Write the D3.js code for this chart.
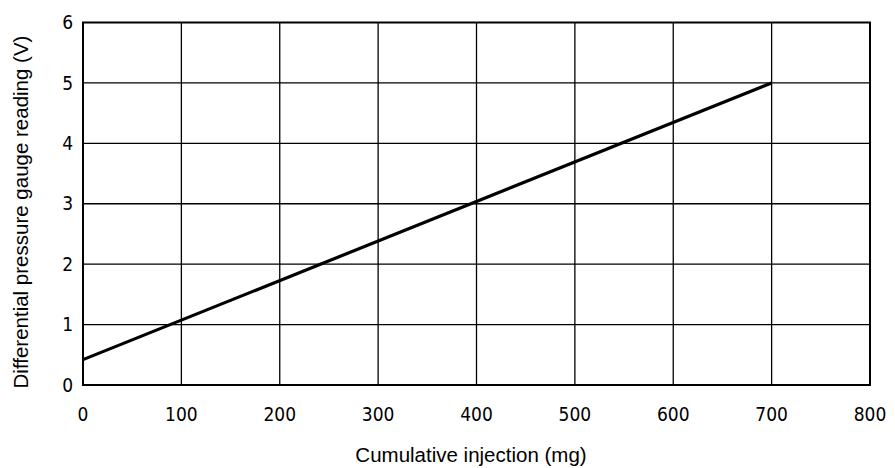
<!DOCTYPE html>
<html>
<head>
<meta charset="utf-8">
<script src="https://cdn.jsdelivr.net/npm/d3@7"></script>
<style>
  body { margin: 0; background: #fff; }
  svg { display: block; }
</style>
</head>
<body>
<svg></svg>
<script>
// data
var injection = [0, 700];
var reading = [0.42, 5];
var xTicks = [0, 100, 200, 300, 400, 500, 600, 700, 800];
var yTicks = [0, 1, 2, 3, 4, 5, 6];

var W = 895, H = 468;
var padL = 83, padR = 870, padT = 22.5, padB = 385;

var svg = d3.select('svg')
    .attr('width', W)
    .attr('height', H);

var x = d3.scaleLinear().domain([0, 800]).range([padL, padR]);
var y = d3.scaleLinear().domain([0, 6]).range([padB, padT]);

var tickFont = "'DejaVu Sans Condensed', 'DejaVu Sans', sans-serif";
var titleFont = "'Liberation Sans', Arial, sans-serif";

// grid
svg.append('g').selectAll('line')
    .data(xTicks.slice(1, -1))
    .enter().append('line')
    .attr('x1', function (d) { return x(d); })
    .attr('x2', function (d) { return x(d); })
    .attr('y1', padT)
    .attr('y2', padB)
    .attr('stroke', '#000')
    .attr('stroke-width', 1.3);

svg.append('g').selectAll('line')
    .data(yTicks.slice(1, -1))
    .enter().append('line')
    .attr('x1', padL)
    .attr('x2', padR)
    .attr('y1', function (d) { return y(d); })
    .attr('y2', function (d) { return y(d); })
    .attr('stroke', '#000')
    .attr('stroke-width', 1.3);

// frame
svg.append('rect')
    .attr('x', padL)
    .attr('y', padT)
    .attr('width', padR - padL)
    .attr('height', padB - padT)
    .attr('fill', 'none')
    .attr('stroke', '#000')
    .attr('stroke-width', 2);

// data line
var pts = injection.map(function (d, i) { return [d, reading[i]]; });
svg.append('path')
    .datum(pts)
    .attr('d', d3.line()
        .x(function (d) { return x(d[0]); })
        .y(function (d) { return y(d[1]); }))
    .attr('fill', 'none')
    .attr('stroke', '#000')
    .attr('stroke-width', 3.2);

// tick labels
svg.append('g').selectAll('text')
    .data(xTicks)
    .enter().append('text')
    .attr('x', function (d) { return x(d); })
    .attr('y', 421)
    .attr('text-anchor', 'middle')
    .style('font-family', tickFont)
    .style('font-size', '19px')
    .style('font-weight', 300)
    .text(function (d) { return d; });

svg.append('g').selectAll('text')
    .data(yTicks)
    .enter().append('text')
    .attr('x', 73)
    .attr('y', function (d) { return y(d); })
    .attr('dy', '0.35em')
    .attr('text-anchor', 'end')
    .style('font-family', tickFont)
    .style('font-size', '19px')
    .style('font-weight', 300)
    .text(function (d) { return d; });

// axis titles
svg.append('text')
    .attr('x', 471)
    .attr('y', 462)
    .attr('text-anchor', 'middle')
    .style('font-family', titleFont)
    .style('font-size', '20.5px')
    .text('Cumulative injection (mg)');

svg.append('text')
    .attr('transform', 'translate(28,212) rotate(-90)')
    .attr('text-anchor', 'middle')
    .style('font-family', titleFont)
    .style('font-size', '20.5px')
    .text('Differential pressure gauge reading (V)');
</script>
</body>
</html>
